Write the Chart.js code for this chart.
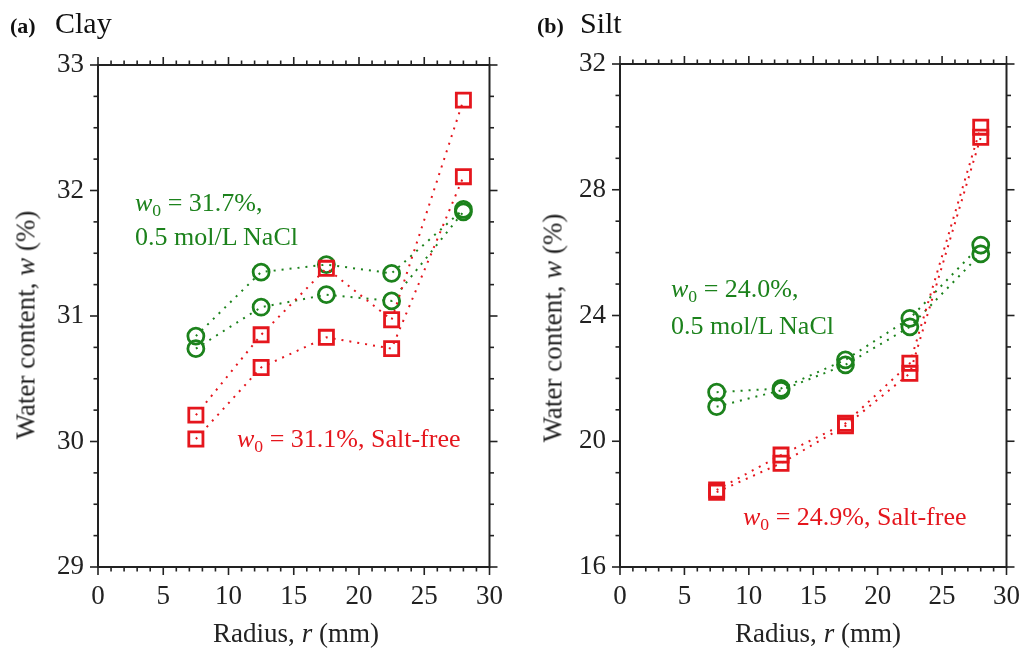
<!DOCTYPE html>
<html>
<head>
<meta charset="utf-8">
<script src="https://cdn.jsdelivr.net/npm/chart.js@4/dist/chart.umd.min.js"></script>
<style>
  html, body { margin:0; padding:0; background:#fff; }
  #wrap { position:relative; width:1034px; height:653px; overflow:hidden; font-family:"Liberation Serif","Times New Roman",serif; }
  .cv { position:absolute; top:0; width:517px; height:653px; }
  .t { position:absolute; white-space:nowrap; line-height:1em; color:#222; }
  .t i { font-style:italic; }
  .t sub { font-size:68%; vertical-align:-0.28em; line-height:0; }
  .green { color:#1c821c; }
  .red { color:#e5161d; }
  .ytitle { transform-origin:center center; transform:translate(-50%,-50%) rotate(-90deg); }
</style>
</head>
<body>
<div id="wrap">
  <div class="cv" style="left:0"><canvas id="c1" width="517" height="653"></canvas></div>
  <div class="cv" style="left:517px"><canvas id="c2" width="517" height="653"></canvas></div>

  <div class="t" style="left:10px;top:15px;font-size:22px;font-weight:bold;color:#111">(a)</div>
  <div class="t" style="left:55px;top:8px;font-size:30px;color:#111">Clay</div>
  <div class="t" style="left:537px;top:15px;font-size:22px;font-weight:bold;color:#111">(b)</div>
  <div class="t" style="left:580px;top:8px;font-size:30px;color:#111">Silt</div>

  <div class="t green" style="left:135px;top:190px;font-size:26px"><i>w</i><sub>0</sub> = 31.7%,</div>
  <div class="t green" style="left:135px;top:224px;font-size:26px">0.5 mol/L NaCl</div>
  <div class="t red" style="left:237px;top:426px;font-size:26px"><i>w</i><sub>0</sub> = 31.1%, Salt-free</div>

  <div class="t green" style="left:671px;top:276px;font-size:26px"><i>w</i><sub>0</sub> = 24.0%,</div>
  <div class="t green" style="left:671px;top:313px;font-size:26px">0.5 mol/L NaCl</div>
  <div class="t red" style="left:743px;top:504px;font-size:26px"><i>w</i><sub>0</sub> = 24.9%, Salt-free</div>

  <div class="t" style="left:296px;top:620px;font-size:27px;transform:translateX(-50%)">Radius, <i>r</i> (mm)</div>
  <div class="t" style="left:818px;top:620px;font-size:27px;transform:translateX(-50%)">Radius, <i>r</i> (mm)</div>
  <div class="t ytitle" style="left:26px;top:325px;font-size:27px">Water content, <i>w</i> (%)</div>
  <div class="t ytitle" style="left:553px;top:328px;font-size:27px">Water content, <i>w</i> (%)</div>
</div>
<script>
// ---------- Data ----------
const radii = [7.5, 12.5, 17.5, 22.5, 28];

// (a) Clay
const claySaltFree1 = [30.21, 30.85, 31.38, 30.97, 32.72];
const claySaltFree2 = [30.02, 30.59, 30.83, 30.74, 32.11];
const clayNaCl1     = [30.84, 31.35, 31.41, 31.34, 31.85];
const clayNaCl2     = [30.74, 31.07, 31.17, 31.12, 31.83];

// (b) Silt
const siltSaltFree1 = [18.45, 19.56, 20.57, 22.48, 29.99];
const siltSaltFree2 = [18.38, 19.30, 20.49, 22.16, 29.67];
const siltNaCl1     = [21.56, 21.68, 22.59, 23.91, 26.24];
const siltNaCl2     = [21.10, 21.62, 22.43, 23.64, 25.96];

const xTicks = [0, 5, 10, 15, 20, 25, 30];
const clayYTicks = [29, 30, 31, 32, 33];
const siltYTicks = [16, 20, 24, 28, 32];

const RED = '#e5161d';
const GREEN = '#1c821c';
const AXIS = '#222';

function pts(vals) { return radii.map((r, i) => ({ x: r, y: vals[i] })); }

function redSet(vals) {
  return { data: pts(vals), borderColor: RED, borderWidth: 2, borderDash: [2, 6],
    pointStyle: 'rect', pointRadius: 10, pointBorderWidth: 2.8,
    pointBorderColor: RED, pointBackgroundColor: 'rgba(0,0,0,0)', fill: false, tension: 0 };
}
function greenSet(vals) {
  return { data: pts(vals), borderColor: GREEN, borderWidth: 2, borderDash: [2, 6],
    pointStyle: 'circle', pointRadius: 8, pointBorderWidth: 2.8,
    pointBorderColor: GREEN, pointBackgroundColor: 'rgba(0,0,0,0)', fill: false, tension: 0 };
}

const frameTicks = {
  id: 'frameTicks',
  afterDraw(chart, args, o) {
    const { ctx, chartArea: a, scales: { x, y } } = chart;
    ctx.save();
    ctx.strokeStyle = AXIS;
    ctx.lineWidth = 2;
    ctx.strokeRect(a.left, a.top, a.right - a.left, a.bottom - a.top);
    ctx.lineWidth = 1.6;
    const seg = (x1, y1, x2, y2) => { ctx.beginPath(); ctx.moveTo(x1, y1); ctx.lineTo(x2, y2); ctx.stroke(); };
    const isMajor = (v, step) => Math.abs(v / step - Math.round(v / step)) < 1e-6;
    const nx = Math.round((x.max - x.min) / o.xMinor);
    for (let i = 0; i <= nx; i++) {
      const v = x.min + i * o.xMinor;
      const L = isMajor(v, o.xMajor) ? 8 : 4.5;
      const p = x.getPixelForValue(v);
      seg(p, a.bottom, p, a.bottom + L);
      seg(p, a.top, p, a.top - L);
    }
    const ny = Math.round((y.max - y.min) / o.yMinor);
    for (let i = 0; i <= ny; i++) {
      const v = y.min + i * o.yMinor;
      const L = isMajor(v - y.min, o.yMajor) ? 8 : 4.5;
      const p = y.getPixelForValue(v);
      seg(a.left, p, a.left - L, p);
      seg(a.right, p, a.right + L, p);
    }
    ctx.restore();
  }
};

function makeChart(id, sets, yTicks, yMinor, yAxisWidth, padRight, padTop) {
  const yMin = yTicks[0], yMax = yTicks[yTicks.length - 1];
  const yMajor = yTicks[1] - yTicks[0];
  return new Chart(document.getElementById(id), {
    type: 'line',
    data: { datasets: sets },
    plugins: [frameTicks],
    options: {
      responsive: false, animation: false, devicePixelRatio: 1,
      layout: { padding: { top: padTop, right: padRight, left: 0, bottom: 0 } },
      plugins: { legend: { display: false }, tooltip: { enabled: false },
        frameTicks: { xMinor: 1, xMajor: 5, yMinor: yMinor, yMajor: yMajor } },
      scales: {
        x: { type: 'linear', min: xTicks[0], max: xTicks[xTicks.length - 1],
          afterBuildTicks: s => { s.ticks = xTicks.map(v => ({ value: v })); },
          afterFit: s => { s.height = 86; },
          grid: { display: false, drawTicks: false },
          border: { display: false },
          ticks: { padding: 14, color: AXIS, font: { family: 'Liberation Serif', size: 27 } } },
        y: { type: 'linear', min: yMin, max: yMax,
          afterBuildTicks: s => { s.ticks = yTicks.map(v => ({ value: v })); },
          afterFit: s => { s.width = yAxisWidth; },
          grid: { display: false, drawTicks: false },
          border: { display: false },
          ticks: { padding: 14, color: AXIS, font: { family: 'Liberation Serif', size: 27 } } }
      }
    }
  });
}

makeChart('c1', [redSet(claySaltFree1), redSet(claySaltFree2), greenSet(clayNaCl1), greenSet(clayNaCl2)],
  clayYTicks, 0.25, 98, 23, 65);
makeChart('c2', [redSet(siltSaltFree1), redSet(siltSaltFree2), greenSet(siltNaCl1), greenSet(siltNaCl2)],
  siltYTicks, 1, 103, 18, 64);
</script>
</body>
</html>
